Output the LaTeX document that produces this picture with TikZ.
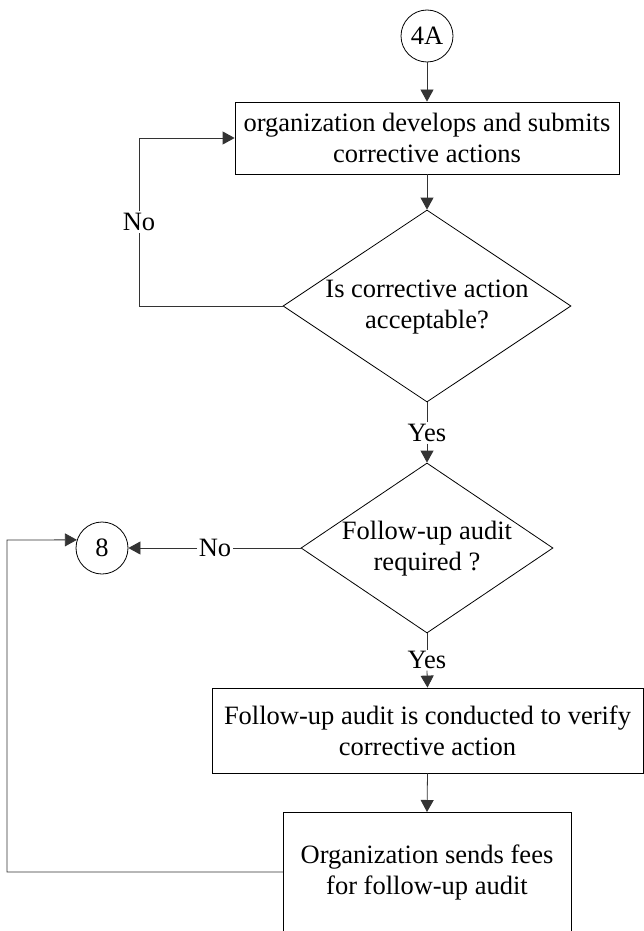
\documentclass[tikz,border=0pt]{standalone}
\usepackage{fontspec}
\setmainfont{Liberation Serif}
\usetikzlibrary{shapes.geometric,arrows.meta}
\begin{document}
\begin{tikzpicture}[x=1pt,y=-1pt,
  font=\fontsize{26.5}{31}\selectfont,
  box/.style={draw,line width=0.8pt,rectangle,inner sep=0pt,align=center},
  dia/.style={draw,line width=0.8pt,shape=diamond,inner sep=0pt},
  conn/.style={draw,circle,line width=0.8pt,inner sep=0pt,minimum size=52pt},
  lbl/.style={inner sep=1.5pt},
  txt/.style={align=center,inner sep=0pt},
  link/.style={line width=0.8pt,draw=black!80},
  arr/.style={link,-{Triangle[length=12pt,width=13pt]}}]
\useasboundingbox (0,0) rectangle (644,931);
% nodes
\node[conn] (c4a) at (427,36) {4A};
\node[box,minimum width=384pt,minimum height=72pt] (b1) at (427,138)
  {organization develops and submits\\corrective actions};
\node[dia,minimum width=288pt,minimum height=192pt] (d1) at (427,306) {};
\node[txt] (t1) at (427,307) {Is corrective action\\acceptable?};
\node[lbl] (yes1) at (427,433) {Yes};
\node[lbl] (no1) at (139,222) {No};
\node[dia,minimum width=252pt,minimum height=170pt] (d2) at (427,548) {};
\node[txt] (t2) at (427,549) {Follow-up audit\\required ?};
\node[conn] (c8) at (102,548) {8};
\node[lbl] (no2) at (215,548) {No};
\node[lbl] (yes2) at (427,660) {Yes};
\node[box,minimum width=431pt,minimum height=85pt] (b3) at (427.5,730.5)
  {Follow-up audit is conducted to verify\\corrective action};
\node[txt] (b4) at (427,872) {Organization sends fees\\for follow-up audit};
% open box 4 (cut at page bottom)
\coordinate (b4bl) at (283,931);
\coordinate (b4tl) at (283,812);
\coordinate (b4tr) at (571,812);
\coordinate (b4br) at (571,931);
\coordinate (b4t) at (427,812);
\coordinate (b4w) at (283,872);
\coordinate (fbl) at (7,540);
\draw[line width=0.8pt] (b4bl) -- (b4tl) -- (b4tr) -- (b4br);
% connectors
\draw[arr] (c4a) -- (b1);
\draw[arr] (b1) -- (d1.north);
\draw[link] (d1.west) -| (no1.south);
\draw[arr] (no1.north) |- (b1.west);
\draw[link] (d1.south) -- (yes1.north);
\draw[arr] (yes1.south) -- (d2.north);
\draw[link] (d2.west) -- (no2.east);
\draw[arr] (no2.west) -- (c8.east);
\draw[link] (d2.south) -- (yes2.north);
\draw[arr] (yes2.south) -- (b3.north);
\draw[arr] (b3.south) -- (b4t);
\draw[arr] (b4w) -| (fbl) -- (c8.162);
\end{tikzpicture}
\end{document}
